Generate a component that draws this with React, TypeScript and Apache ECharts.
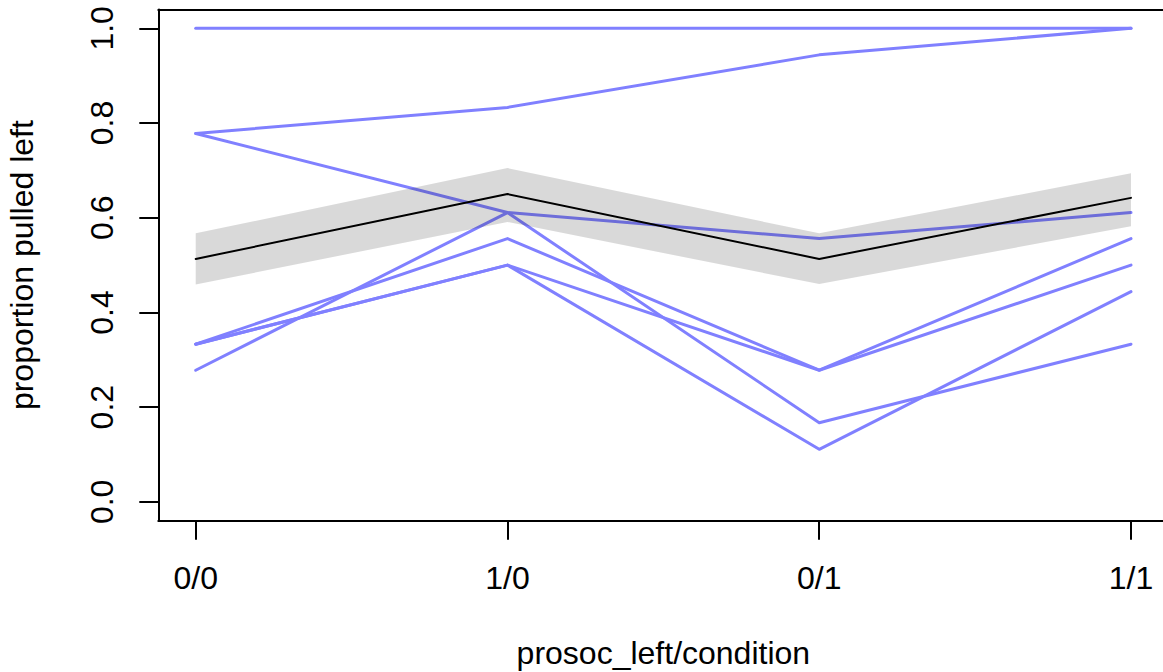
import React, { useEffect, useRef } from 'react';
import * as echarts from 'echarts';

// x-axis categories (prosoc_left/condition) and their positions
const categories = ['0/0', '1/0', '0/1', '1/1'];
const xPositions = [1, 2, 3, 4];
const yTicks = [0, 0.2, 0.4, 0.6, 0.8, 1.0];

// observed proportion pulled left, per chimp
const chimp1 = [0.333, 0.5, 0.278, 0.556];
const chimp2 = [1.0, 1.0, 1.0, 1.0];
const chimp3 = [0.278, 0.611, 0.167, 0.333];
const chimp4 = [0.333, 0.5, 0.111, 0.444];
const chimp5 = [0.333, 0.556, 0.278, 0.5];
const chimp6 = [0.778, 0.611, 0.556, 0.611];
const chimp7 = [0.778, 0.833, 0.944, 1.0];
const chimps = [chimp1, chimp2, chimp3, chimp4, chimp5, chimp6, chimp7];

// ensemble prediction: mean and interval
const predMean = [0.513, 0.65, 0.513, 0.642];
const predLower = [0.459, 0.591, 0.46, 0.582];
const predUpper = [0.567, 0.705, 0.567, 0.694];

const FONT = '"Liberation Sans", Arial, Helvetica, sans-serif';

export default function App() {
  const ref = useRef<HTMLDivElement>(null);

  useEffect(() => {
    const chart = echarts.init(ref.current as HTMLDivElement, null, { renderer: 'svg' });

    const chimpSeries = chimps.map((vals, i) => ({
      type: 'line',
      name: 'chimp ' + (i + 1),
      data: vals.map((v, j) => [xPositions[j], v]),
      symbol: 'none',
      showSymbol: false,
      silent: true,
      z: 2,
      lineStyle: { color: '#8080FF', width: 3, cap: 'round', join: 'round' },
    }));

    const axisLine = { show: true, onZero: false, lineStyle: { color: '#000000', width: 2 } };

    const option: any = {
      animation: false,
      backgroundColor: '#ffffff',
      grid: {
        left: 158.3,
        top: 9.4,
        right: 1.6,
        bottom: 151.2,
        show: false,
        containLabel: false,
        outerBoundsMode: 'none',
      },
      xAxis: [
        {
          type: 'value',
          position: 'bottom',
          min: 0.88,
          max: 4.12,
          axisLine,
          splitLine: { show: false },
          axisTick: {
            show: true,
            customValues: xPositions,
            length: 19,
            lineStyle: { color: '#000000', width: 2 },
          },
          axisLabel: {
            customValues: xPositions,
            formatter: (v: number) => categories[Math.round(v) - 1] ?? '',
            margin: 41,
            fontSize: 32,
            color: '#000000',
            fontFamily: FONT,
          },
          name: 'prosoc_left/condition',
          nameLocation: 'middle',
          nameGap: 116,
          nameTextStyle: { fontSize: 32, color: '#000000', fontFamily: FONT },
        },
        {
          type: 'value',
          position: 'top',
          min: 0.88,
          max: 4.12,
          axisLine,
          splitLine: { show: false },
          axisTick: { show: false },
          axisLabel: { show: false },
        },
      ],
      yAxis: {
        type: 'value',
        min: -0.04,
        max: 1.04,
        axisLine,
        splitLine: { show: false },
        axisTick: {
          show: true,
          customValues: yTicks,
          length: 19,
          lineStyle: { color: '#000000', width: 2 },
        },
        axisLabel: {
          customValues: yTicks,
          formatter: (v: number) => v.toFixed(1),
          rotate: 90,
          margin: 40,
          fontSize: 32,
          color: '#000000',
          fontFamily: FONT,
        },
        name: 'proportion pulled left',
        nameLocation: 'middle',
        nameGap: 120,
        nameTextStyle: { fontSize: 32, color: '#000000', fontFamily: FONT },
      },
      series: [
        ...chimpSeries,
        {
          type: 'line',
          name: 'mean',
          data: predMean.map((v, j) => [xPositions[j], v]),
          symbol: 'none',
          showSymbol: false,
          silent: true,
          z: 3,
          lineStyle: { color: '#000000', width: 2, cap: 'round', join: 'round' },
        },
        {
          type: 'custom',
          name: 'interval',
          silent: true,
          z: 4,
          data: [[xPositions[0], predMean[0]]],
          renderItem: (_params: any, api: any) => {
            const pts: number[][] = [];
            for (let j = 0; j < xPositions.length; j++) {
              pts.push(api.coord([xPositions[j], predUpper[j]]));
            }
            for (let j = xPositions.length - 1; j >= 0; j--) {
              pts.push(api.coord([xPositions[j], predLower[j]]));
            }
            return {
              type: 'polygon',
              shape: { points: pts },
              style: { fill: 'rgba(0,0,0,0.15)', stroke: 'none' },
            };
          },
        },
      ],
    };

    chart.setOption(option);
    return () => chart.dispose();
  }, []);

  return (
    <div
      style={{
        position: 'absolute',
        left: 0,
        top: 0,
        width: 1163,
        height: 672,
        overflow: 'hidden',
        background: '#fff',
      }}
    >
      <div ref={ref} style={{ width: 1170, height: 672 }} />
    </div>
  );
}
